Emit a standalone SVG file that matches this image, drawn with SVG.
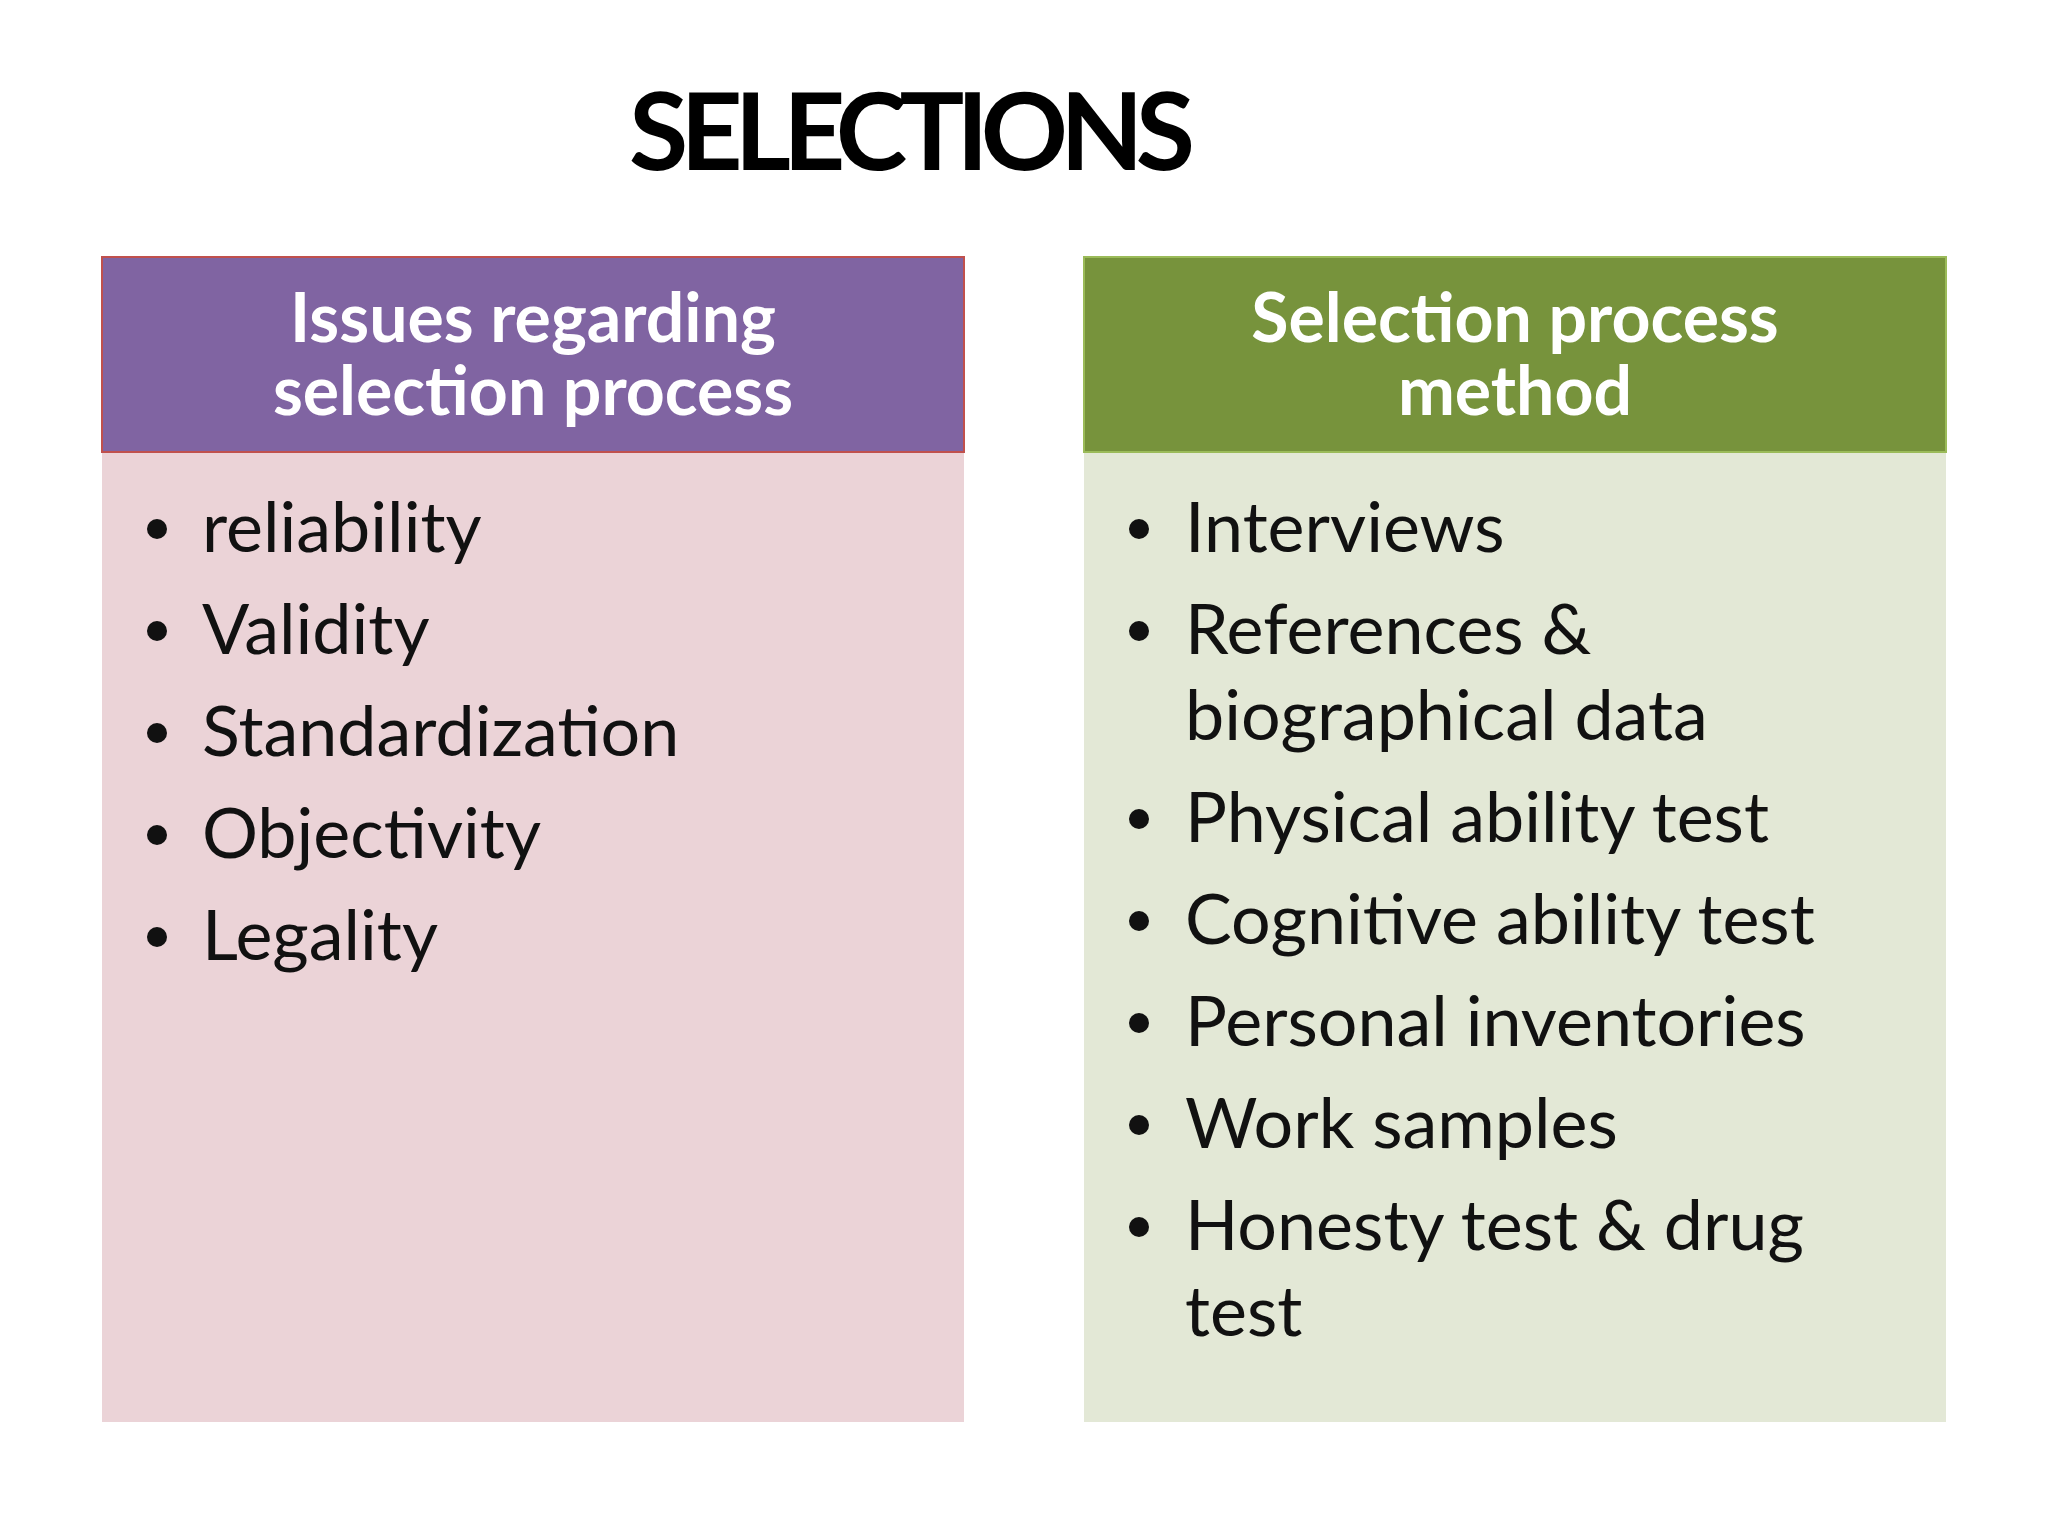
<svg xmlns="http://www.w3.org/2000/svg" width="2048" height="1536" viewBox="0 0 2048 1536">
<style>
.t{font-family:Lato,"Open Sans",sans-serif}
.h{font-family:Lato,"Open Sans",sans-serif;font-weight:bold;font-size:68px;fill:#fff;text-anchor:middle}
.b{font-family:Lato,"Open Sans",sans-serif;font-size:70px;fill:#111}
</style>
<rect width="2048" height="1536" fill="#fff"/>
<text class="t" x="912" y="170" font-size="108" font-weight="bold" text-anchor="middle" fill="#000" textLength="566">SELECTIONS</text>
<g id="left">
<rect x="102" y="452" width="862" height="970" fill="#EBD3D7"/>
<rect x="102" y="257" width="862" height="195" fill="#8064A2" stroke="#C0504D" stroke-width="2"/>
<text class="h" x="533" y="342">Issues regarding</text>
<text class="h" x="533" y="415">selection process</text>
<g class="b">
<circle cx="157" cy="529" r="10"/><text class="b" x="202" y="552">reliability</text>
<circle cx="157" cy="631" r="10"/><text class="b" x="202" y="654">Validity</text>
<circle cx="157" cy="733" r="10"/><text class="b" x="202" y="756">Standardization</text>
<circle cx="157" cy="835" r="10"/><text class="b" x="202" y="858">Objectivity</text>
<circle cx="157" cy="937" r="10"/><text class="b" x="202" y="960">Legality</text>
</g>
</g>
<g id="right">
<rect x="1084" y="452" width="862" height="970" fill="#E3E8D6"/>
<rect x="1084" y="257" width="862" height="195" fill="#77933C" stroke="#9BBB59" stroke-width="2"/>
<text class="h" x="1515" y="342">Selection process</text>
<text class="h" x="1515" y="415">method</text>
<g class="b">
<circle cx="1139" cy="529" r="10"/><text class="b" x="1185" y="552">Interviews</text>
<circle cx="1139" cy="631" r="10"/><text class="b" x="1185" y="654">References &amp;</text>
<text class="b" x="1185" y="740">biographical data</text>
<circle cx="1139" cy="819" r="10"/><text class="b" x="1185" y="842">Physical ability test</text>
<circle cx="1139" cy="921" r="10"/><text class="b" x="1185" y="944">Cognitive ability test</text>
<circle cx="1139" cy="1023" r="10"/><text class="b" x="1185" y="1046">Personal inventories</text>
<circle cx="1139" cy="1125" r="10"/><text class="b" x="1185" y="1148">Work samples</text>
<circle cx="1139" cy="1227" r="10"/><text class="b" x="1185" y="1250">Honesty test &amp; drug</text>
<text class="b" x="1185" y="1336">test</text>
</g>
</g>
</svg>
